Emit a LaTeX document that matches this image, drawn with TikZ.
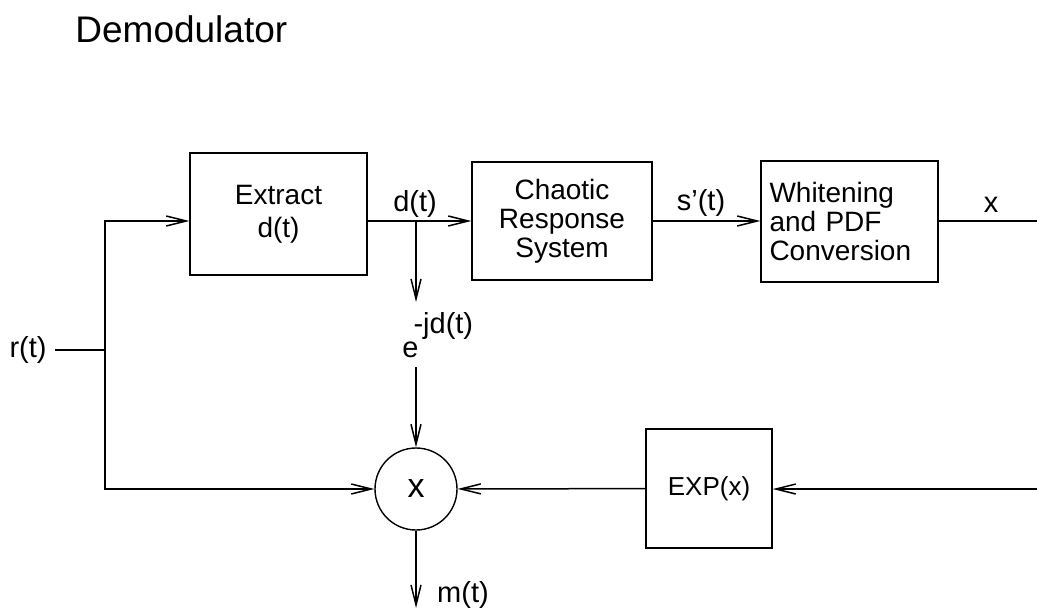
\documentclass[tikz,border=0pt]{standalone}
\usepackage{fontspec}
\setmainfont{Liberation Sans}
\usetikzlibrary{arrows.meta,positioning}
\tikzset{
  box/.style={rectangle, draw, line width=0.7pt, align=center, inner sep=0pt,
              font=\fontsize{14}{14.5}\selectfont},
  mixer/.style={circle, draw, line width=0.7pt, minimum size=41pt, inner sep=0pt,
                font=\fontsize{17}{17}\selectfont},
  sig/.style={font=\fontsize{14.5}{15}\selectfont, inner sep=0pt},
  arrow/.style={-{Straight Barb[length=10pt,width=5pt]}, line width=0.75pt},
  wire/.style={line width=0.75pt},
}

\begin{document}
\begin{tikzpicture}[x=0.5pt,y=-0.5pt]
\useasboundingbox (0,0) rectangle (1037,611);
\node[anchor=base west, inner sep=0pt, font=\fontsize{18.5}{20}\selectfont] (title) at (75,42) {Demodulator};
% upper path
\node[box, minimum width=88.5pt, minimum height=61pt] (extract) at (278.5,214) {Extract\\[2pt]d(t)};
\node[box, minimum width=90pt, minimum height=59pt] (chaotic) at (562,221) {Chaotic\\Response\\System};
\node[box, minimum width=88.5pt, minimum height=60.5pt, text width=80pt, align=left] (whiten) at (849.5,221.5) {Whitening\\and PDF\\Conversion};
% lower path
\node[mixer] (mult) at (416,489) {x};
\node[box, minimum width=63pt, minimum height=59.5pt, font=\fontsize{13}{13}\selectfont] (expx) at (709,488.5) {EXP(x)};
% signal names
\node[sig, inner xsep=4pt, anchor=east] (rin) at (55,350) {r(t)};
\node[sig] (dlab) at (415,204) {d(t)};
\node[sig] (slab) at (701,203) {s’(t)};
\node[sig] (xlab) at (991,205) {x};
\node[sig] (mlab) at (463,595) {m(t)};
\node[sig, anchor=base west] (expo) at (402,357) {e\kern-2.5pt\raisebox{12pt}{-jd(t)}};
\coordinate (split) at (105,350);
\coordinate (dtap) at (416,221);
\coordinate (dtip) at (416,302);
\coordinate (etop) at (416,367);
\coordinate (xout) at (1037,221);
\coordinate (xin) at (1037,489);
\coordinate (mout) at (416,608);
% connectors
\draw[wire] (rin) -- (split);
\draw[arrow] (split) |- (extract.west |- dtap);
\draw[arrow] (split) |- (mult);
\draw[arrow] (extract.east |- dtap) -- (chaotic);
\draw[arrow] (chaotic.east) -- (whiten.west |- chaotic.east);
\draw[wire] (whiten.east |- xout) -- (xout);
\draw[arrow] (xin) -- (expx.east |- xin);
\foreach \a/\b in {dtap/dtip, etop/mult, expx/mult, mult/mout}
  \draw[arrow] (\a) -- (\b);
\end{tikzpicture}
\end{document}
